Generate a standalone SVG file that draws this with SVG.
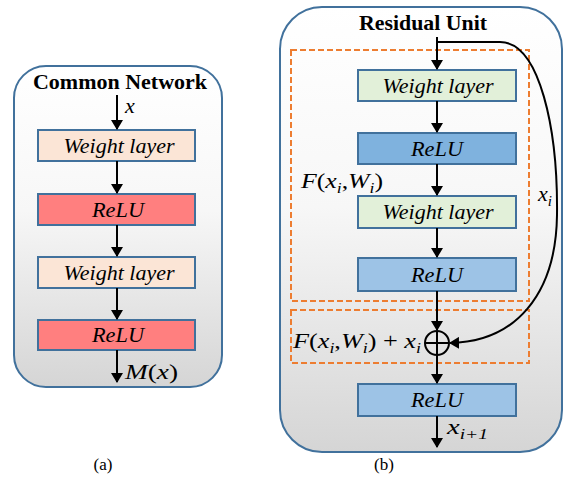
<svg xmlns="http://www.w3.org/2000/svg" width="565" height="477" viewBox="0 0 565 477">
<defs>
<linearGradient id="pg" x1="0" y1="0" x2="0" y2="1">
<stop offset="0" stop-color="#ffffff"/>
<stop offset="0.45" stop-color="#f7f7f7"/>
<stop offset="1" stop-color="#d5d5d5"/>
</linearGradient>
<marker id="ah" markerWidth="10" markerHeight="12" refX="9" refY="6" orient="auto" markerUnits="userSpaceOnUse" viewBox="0 0 10 12">
<path d="M0,0 L10,6 L0,12 Z" fill="#000"/>
</marker>
</defs>
<style>
.panel{fill:url(#pg);stroke:#41719c;stroke-width:2}
.box{stroke:#41719c;stroke-width:2}
.wl{fill:#fbe5d6}
.rl{fill:#ff7f7f}
.wg{fill:#e2f0d9}
.rb{fill:#7fb2de}
.rc{fill:#9dc3e6}
.dash{fill:none;stroke:#ed7d31;stroke-width:2;stroke-dasharray:6 3}
.ln{stroke:#000;stroke-width:2;fill:none}
</style>
<g id="panel-a">
<rect class="panel" x="14" y="66" width="208" height="321" rx="32"/>
<text x="120" y="89" font-family="Liberation Serif, serif" font-weight="bold" font-size="21" text-anchor="middle" textLength="174" lengthAdjust="spacingAndGlyphs">Common Network</text>
</g>
<g id="panel-b">
<rect class="panel" x="280" y="7" width="282" height="445" rx="42"/>
<text x="423" y="30" font-family="Liberation Serif, serif" font-weight="bold" font-size="21" text-anchor="middle" textLength="128" lengthAdjust="spacingAndGlyphs">Residual Unit</text>
<rect class="dash" x="291" y="50" width="238" height="251"/>
<rect class="dash" x="291" y="310" width="238" height="53"/>
</g>
<g font-family="Liberation Serif, serif" font-style="italic" font-size="21" text-anchor="middle">
<g id="a-w1"><rect class="box wl" x="38" y="130" width="157" height="31"/><text x="119" y="153" textLength="111" lengthAdjust="spacingAndGlyphs">Weight layer</text></g>
<g id="a-r1"><rect class="box rl" x="38" y="194" width="157" height="31"/><text x="118" y="217" textLength="52" lengthAdjust="spacingAndGlyphs">ReLU</text></g>
<g id="a-w2"><rect class="box wl" x="38" y="257" width="157" height="31"/><text x="119" y="280" textLength="111" lengthAdjust="spacingAndGlyphs">Weight layer</text></g>
<g id="a-r2"><rect class="box rl" x="38" y="320" width="157" height="30"/><text x="118" y="342" textLength="52" lengthAdjust="spacingAndGlyphs">ReLU</text></g>
<g id="b-w1"><rect class="box wg" x="358" y="70" width="158" height="31"/><text x="438" y="93" textLength="111" lengthAdjust="spacingAndGlyphs">Weight layer</text></g>
<g id="b-r1"><rect class="box rb" x="358" y="133" width="158" height="31"/><text x="437" y="156" textLength="52" lengthAdjust="spacingAndGlyphs">ReLU</text></g>
<g id="b-w2"><rect class="box wg" x="358" y="196" width="158" height="32"/><text x="438" y="219" textLength="111" lengthAdjust="spacingAndGlyphs">Weight layer</text></g>
<g id="b-r2"><rect class="box rc" x="358" y="258" width="158" height="33"/><text x="437" y="282" textLength="52" lengthAdjust="spacingAndGlyphs">ReLU</text></g>
<g id="b-r3"><rect class="box rc" x="358" y="384" width="158" height="32"/><text x="437" y="407" textLength="52" lengthAdjust="spacingAndGlyphs">ReLU</text></g>
</g>
<g id="b-sum"><circle cx="437" cy="343" r="12" fill="none" stroke="#000" stroke-width="2"/><path d="M425,343 H449 M437,331 V355" stroke="#000" stroke-width="2"/></g>
<g id="connectors">
<line class="ln" x1="117" y1="95" x2="117" y2="129" marker-end="url(#ah)"/>
<line class="ln" x1="117" y1="161" x2="117" y2="193" marker-end="url(#ah)"/>
<line class="ln" x1="117" y1="225" x2="117" y2="256" marker-end="url(#ah)"/>
<line class="ln" x1="117" y1="288" x2="117" y2="319" marker-end="url(#ah)"/>
<line class="ln" x1="117" y1="350" x2="117" y2="382" marker-end="url(#ah)"/>
<line class="ln" x1="437" y1="37" x2="437" y2="69" marker-end="url(#ah)"/>
<line class="ln" x1="437" y1="101" x2="437" y2="132" marker-end="url(#ah)"/>
<line class="ln" x1="437" y1="164" x2="437" y2="195" marker-end="url(#ah)"/>
<line class="ln" x1="437" y1="228" x2="437" y2="257" marker-end="url(#ah)"/>
<line class="ln" x1="437" y1="291" x2="437" y2="330" marker-end="url(#ah)"/>
<line class="ln" x1="437" y1="355" x2="437" y2="383" marker-end="url(#ah)"/>
<line class="ln" x1="437" y1="416" x2="437" y2="447" marker-end="url(#ah)"/>
<path class="ln" d="M437,42 H500 C540,42 558,130 557,215 C556,295 515,342 450,343" marker-end="url(#ah)"/>
</g>
<g id="labels" font-family="Liberation Serif, serif" font-size="22">
<text x="125" y="113" font-style="italic">x</text>
<text x="125" y="379" textLength="53" lengthAdjust="spacingAndGlyphs"><tspan font-style="italic">M</tspan>(<tspan font-style="italic">x</tspan>)</text>
<text x="301" y="188" textLength="82" lengthAdjust="spacingAndGlyphs"><tspan font-style="italic">F</tspan>(<tspan font-style="italic">x</tspan><tspan font-size="15" font-style="italic" dy="5">i</tspan><tspan dy="-5">,</tspan><tspan font-style="italic">W</tspan><tspan font-size="15" font-style="italic" dy="5">i</tspan><tspan dy="-5">)</tspan></text>
<text x="538" y="201" font-style="italic">x<tspan font-size="15" dy="5">i</tspan></text>
<text x="293" y="348" textLength="128" lengthAdjust="spacingAndGlyphs"><tspan font-style="italic">F</tspan>(<tspan font-style="italic">x</tspan><tspan font-size="15" font-style="italic" dy="5">i</tspan><tspan dy="-5">,</tspan><tspan font-style="italic">W</tspan><tspan font-size="15" font-style="italic" dy="5">i</tspan><tspan dy="-5">) + </tspan><tspan font-style="italic">x</tspan><tspan font-size="15" font-style="italic" dy="5">i</tspan></text>
<text x="447" y="434" font-style="italic" textLength="41" lengthAdjust="spacingAndGlyphs">x<tspan font-size="15" dy="5">i+1</tspan></text>
</g>
<g id="captions" font-family="Liberation Serif, serif" font-size="17" text-anchor="middle">
<text x="103" y="470">(a)</text>
<text x="384" y="470">(b)</text>
</g>
</svg>
